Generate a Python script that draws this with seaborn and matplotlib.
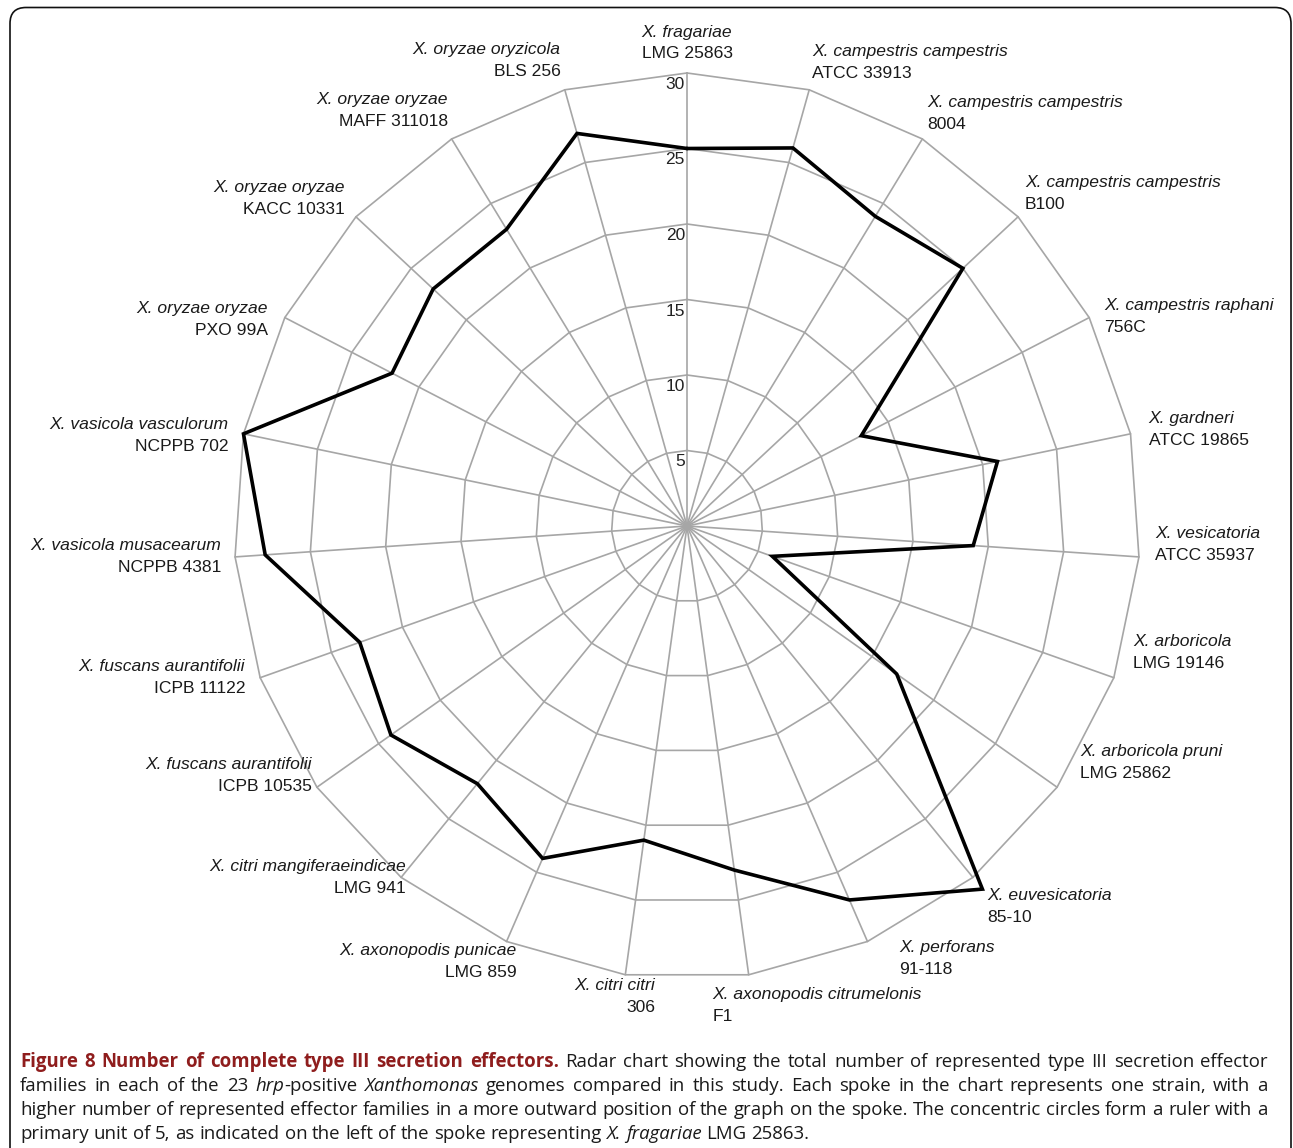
import re
import numpy as np
import pandas as pd
import matplotlib
matplotlib.use("Agg")
import matplotlib.pyplot as plt
import seaborn as sns
from matplotlib.patches import FancyBboxPatch
from matplotlib.transforms import IdentityTransform

# one spoke per strain, clockwise from the top
species = [
    "X. fragariae", "X. campestris campestris", "X. campestris campestris",
    "X. campestris campestris", "X. campestris raphani", "X. gardneri",
    "X. vesicatoria", "X. arboricola", "X. arboricola pruni", "X. euvesicatoria",
    "X. perforans", "X. axonopodis citrumelonis", "X. citri citri",
    "X. axonopodis punicae", "X. citri mangiferaeindicae", "X. fuscans aurantifolii",
    "X. fuscans aurantifolii", "X. vasicola musacearum", "X. vasicola vasculorum",
    "X. oryzae oryzae", "X. oryzae oryzae", "X. oryzae oryzae", "X. oryzae oryzicola",
]
strains = [
    "LMG 25863", "ATCC 33913", "8004", "B100", "756C", "ATCC 19865", "ATCC 35937",
    "LMG 19146", "LMG 25862", "85-10", "91-118", "F1", "306", "LMG 859", "LMG 941",
    "ICPB 10535", "ICPB 11122", "NCPPB 4381", "NCPPB 702", "PXO 99A", "KACC 10331",
    "MAFF 311018", "BLS 256",
]
effectors = [25, 26, 24, 25, 13, 21, 19, 6, 17, 31, 27, 23,
             21, 24, 22, 24, 23, 28, 30, 22, 23, 23, 27]
ring_values = [5, 10, 15, 20, 25, 30]

caption = [
    [("Figure 8 Number of complete type III secretion effectors.", "bold"),
     (" Radar chart showing the total number of represented type III secretion effector", "normal")],
    [("families in each of the 23 ", "normal"), ("hrp", "italic"), ("-positive ", "normal"),
     ("Xanthomonas", "italic"),
     (" genomes compared in this study. Each spoke in the chart represents one strain, with a", "normal")],
    [("higher number of represented effector families in a more outward position of the graph "
      "on the spoke. The concentric circles form a ruler with a", "normal")],
    [("primary unit of 5, as indicated on the left of the spoke representing ", "normal"),
     ("X. fragariae", "italic"), (" LMG 25863.", "normal")],
]

# label nudges (pixels) from each spoke end: x shift, centre of the two lines above the end
label_nudge = [
    (0, 30), (3, 27), (5, 25), (7, 23), (15, 1), (18, 4), (16, 12), (19, 25),
    (23, 25), (14, -29), (32, -17), (-36, -31), (30, -22), (10, -20), (5, 0),
    (-5, 12), (-15, 0), (-14, 0), (-15, -2), (-17, -2), (-11, 18), (-4, 28), (-4, 29),
]

sns.set_theme(style="white")
plt.rcParams["font.family"] = ["Liberation Sans", "DejaVu Sans"]

W, H = 1293, 1148
fig = plt.figure(figsize=(W / 100, H / 100), dpi=100)
cx, cy, R = 687, 526, 453
ax = fig.add_axes([(cx - R) / W, (H - cy - R) / H, 2 * R / W, 2 * R / H], projection="polar")
ax.set_theta_zero_location("N")
ax.set_theta_direction(-1)
ax.set_ylim(0, ring_values[-1])
ax.axis("off")

n = len(effectors)
theta = np.linspace(0, 2 * np.pi, n, endpoint=False)
closed = np.append(theta, 2 * np.pi)

# web: straight-sided rings and spokes
grid_kw = dict(color="#a6a6a6", lw=1.2, zorder=1)
for r in ring_values:
    ax.plot(closed, [r] * (n + 1), **grid_kw)
for t in theta:
    ax.plot([t, t], [0, ring_values[-1]], **grid_kw)

df = pd.DataFrame({"angle": closed, "effectors": effectors + effectors[:1]})
sns.lineplot(data=df, x="angle", y="effectors", sort=False, estimator=None,
             color="black", lw=2.6, solid_joinstyle="miter", ax=ax, zorder=3)
for line in ax.lines:
    line.set_clip_on(False)

# ruler values left of the top spoke
for r in ring_values:
    ax.annotate(str(r), xy=(0, r), xytext=(-2, -4), textcoords="offset pixels",
                ha="right", va="top", fontsize=12.5, color="#222222")

# strain labels around the web
for k in range(n):
    ha = "center" if k == 0 else ("left" if k <= 11 else "right")
    dx, dy = label_nudge[k]
    for txt, off, style in [(species[k], 11, "italic"), (strains[k], -11, "normal")]:
        ax.annotate(txt, xy=(theta[k], ring_values[-1]), xytext=(dx, dy + off),
                    textcoords="offset pixels", ha=ha, va="center", fontstyle=style,
                    fontsize=12.6, color="#1a1a1a", annotation_clip=False)

# caption: justified paragraph built word by word
renderer = fig.canvas.get_renderer()
cap_kw = dict(fontsize=13.4, family=["Open Sans", "DejaVu Sans"])


def style_kw(style):
    kw = dict(cap_kw)
    if style == "bold":
        kw.update(fontweight="bold", color="#8f1d1d")
    else:
        kw.update(color="#1a1a1a", fontstyle=style)
    return kw


def width(s, kw):
    t = fig.text(0, 0, s, **kw)
    w = t.get_window_extent(renderer).width
    t.remove()
    return w


natural_space = width("a a", cap_kw) - width("aa", cap_kw)
left, right = 20, 1268
baseline = H - 1067
for i, parts in enumerate(caption):
    words, gap_next = [], False
    for txt, style in parts:
        kw = style_kw(style)
        for tok in re.findall(r"\S+|\s+", txt):
            if tok.isspace():
                gap_next = True
            else:
                words.append((tok, kw, gap_next and len(words) > 0, width(tok, kw)))
                gap_next = False
    n_gaps = sum(w[2] for w in words)
    if i < len(caption) - 1:
        gap = (right - left - sum(w[3] for w in words)) / n_gaps
    else:
        gap = natural_space
    x = left
    for tok, kw, has_gap, w in words:
        if has_gap:
            x += gap
        fig.text(x, baseline, tok, transform=IdentityTransform(), va="baseline", ha="left", **kw)
        x += w
    baseline -= 24

box = FancyBboxPatch((10, -40), 1281, H - 7.5 + 40, boxstyle="round,pad=0,rounding_size=16",
                     transform=IdentityTransform(), fill=False, edgecolor="#111111", lw=1.2)
fig.add_artist(box)

fig.savefig("out.png", dpi=100)
